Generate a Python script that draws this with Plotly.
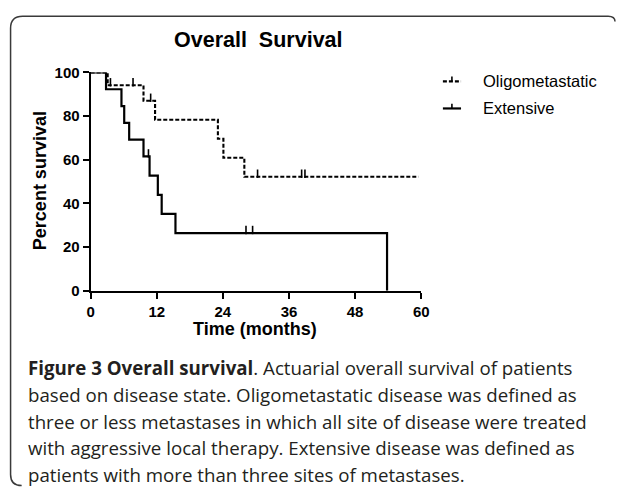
import plotly.graph_objects as go

# ---------------- data ----------------
title_text = "Overall  Survival"
series_names = ["Oligometastatic", "Extensive"]

oligo_event_months = [3.1, 9.6, 11.7, 23.1, 24.1, 27.9]
oligo_survival = [94.1, 87.0, 78.3, 69.6, 60.9, 52.2]
oligo_end_month = 59.5
oligo_censor_months = [3.6, 7.7, 10.9, 30.3, 38.3, 38.9]
oligo_censor_surv = [94.1, 94.1, 87.0, 52.2, 52.2, 52.2]

ext_event_months = [2.8, 5.6, 6.1, 7.0, 9.6, 10.7, 12.2, 12.9, 15.4, 53.8]
ext_survival = [92.3, 84.6, 76.9, 69.2, 61.5, 52.7, 43.9, 35.2, 26.4, 0.0]
ext_censor_months = [10.5, 28.2, 29.4]
ext_censor_surv = [61.5, 26.4, 26.4]

x_ticks = [0, 12, 24, 36, 48, 60]
y_ticks = [0, 20, 40, 60, 80, 100]

caption_lines = [
    "<b>Figure 3 Overall survival</b>. Actuarial overall survival of patients",
    "based on disease state. Oligometastatic disease was defined as",
    "three or less metastases in which all site of disease were treated",
    "with aggressive local therapy. Extensive disease was defined as",
    "patients with more than three sites of metastases.",
]

# ---------------- layout helpers ----------------
W, H = 624, 494
def PX(x):
    return x / W
def PY(y):
    return 1 - y / H

CHART_FONT = "Liberation Sans, Arial, sans-serif"
CAP_FONT = "Open Sans, sans-serif"

fig = go.Figure()

# Oligometastatic (dashed)
fig.add_trace(go.Scatter(
    x=[0] + oligo_event_months + [oligo_end_month],
    y=[100] + oligo_survival + [oligo_survival[-1]],
    mode="lines", line=dict(shape="hv", color="black", width=2.1, dash="4px,2px"),
    name=series_names[0], showlegend=False, cliponaxis=False, hoverinfo="skip"))
# Extensive (solid)
fig.add_trace(go.Scatter(
    x=[0] + ext_event_months,
    y=[100] + ext_survival,
    mode="lines", line=dict(shape="hv", color="black", width=2.2),
    name=series_names[1], showlegend=False, cliponaxis=False, hoverinfo="skip"))

# censor ticks (small upward vertical ticks)
tick_off = 1.4
fig.add_trace(go.Scatter(
    x=oligo_censor_months, y=[s + tick_off for s in oligo_censor_surv],
    mode="markers", marker=dict(symbol="line-ns", size=6, line=dict(width=1.6, color="black")),
    showlegend=False, cliponaxis=False, hoverinfo="skip"))
fig.add_trace(go.Scatter(
    x=ext_censor_months, y=[s + tick_off for s in ext_censor_surv],
    mode="markers", marker=dict(symbol="line-ns", size=6, line=dict(width=1.6, color="black")),
    showlegend=False, cliponaxis=False, hoverinfo="skip"))

axis_common = dict(
    showline=True, linecolor="black", linewidth=2,
    ticks="outside", ticklen=6, tickwidth=2, tickcolor="black",
    showgrid=False, zeroline=False,
    tickfont=dict(family=CHART_FONT, size=15, color="black", weight="bold"),
)

fig.update_layout(
    width=W, height=H,
    margin=dict(l=0, r=0, t=0, b=0),
    paper_bgcolor="white", plot_bgcolor="white",
    showlegend=False,
    xaxis=dict(domain=[PX(88.3), PX(425.4)], range=[0, 60], tickvals=x_ticks,
               ticktext=[str(v) for v in x_ticks], fixedrange=True, **axis_common),
    yaxis=dict(domain=[PY(291.7), PY(65.7)], range=[0, 100], tickvals=y_ticks,
               ticktext=[str(v) for v in y_ticks], fixedrange=True, **axis_common),
)

annotations = []
# title
annotations.append(dict(text="<b>" + title_text + "</b>", x=PX(259), y=PY(32), xref="paper", yref="paper",
                        showarrow=False, xanchor="center", yanchor="middle",
                        font=dict(family=CHART_FONT, size=21.5, color="black")))
# axis titles
annotations.append(dict(text="<b>Time (months)</b>", x=PX(256), y=PY(331), xref="paper", yref="paper",
                        showarrow=False, xanchor="center", yanchor="middle",
                        font=dict(family=CHART_FONT, size=18, color="black")))
annotations.append(dict(text="<b>Percent survival</b>", x=PX(37), y=PY(178), xref="paper", yref="paper",
                        showarrow=False, xanchor="center", yanchor="middle", textangle=-90,
                        font=dict(family=CHART_FONT, size=18, color="black")))
# legend text
legend_y = [75, 103]
for name, ly in zip(series_names, legend_y):
    annotations.append(dict(text=name, x=PX(486), y=PY(ly), xref="paper", yref="paper",
                            showarrow=False, xanchor="left", yanchor="middle",
                            font=dict(family=CHART_FONT, size=16.5, color="black")))
# caption
cap_y = [371.7, 399.2, 426.7, 454.2, 481.7]
for line, cy in zip(caption_lines, cap_y):
    annotations.append(dict(text=line, x=PX(22), y=PY(cy), xref="paper", yref="paper",
                            showarrow=False, xanchor="left", yanchor="middle",
                            font=dict(family=CAP_FONT, size=18.7, color="#231f20")))
fig.update_layout(annotations=annotations)

shapes = []
# legend samples
for i, ly in enumerate(legend_y):
    shapes.append(dict(type="line", xref="paper", yref="paper",
                       x0=PX(447.5), x1=PX(466), y0=PY(ly), y1=PY(ly),
                       line=dict(color="black", width=2.2, dash="4px,2px" if i == 0 else "solid")))
    shapes.append(dict(type="line", xref="paper", yref="paper",
                       x0=PX(456.7), x1=PX(456.7), y0=PY(ly), y1=PY(ly - 5),
                       line=dict(color="black", width=1.6)))
# rounded frame (left, top edges)
p = "M {a},{b} Q {c},{b} {c},{d} L {c},{e} Q {c},{f} {g},{f} L {h},{f} Q {i},{f} {i},{j}".format(
    a=PX(18), b=PY(493.5), c=PX(6.7), d=PY(482), e=PY(20), f=PY(7.5), g=PX(19), h=PX(616), i=PX(623), j=PY(13))
shapes.append(dict(type="path", xref="paper", yref="paper", path=p,
                   line=dict(color="#3a3a3a", width=1.5)))
fig.update_layout(shapes=shapes)

fig.write_html("out.html",
               config={"displayModeBar": False, "staticPlot": True},
               post_script="document.body.style.margin='0';document.body.style.padding='0';"
                           "document.body.style.overflow='hidden';")
